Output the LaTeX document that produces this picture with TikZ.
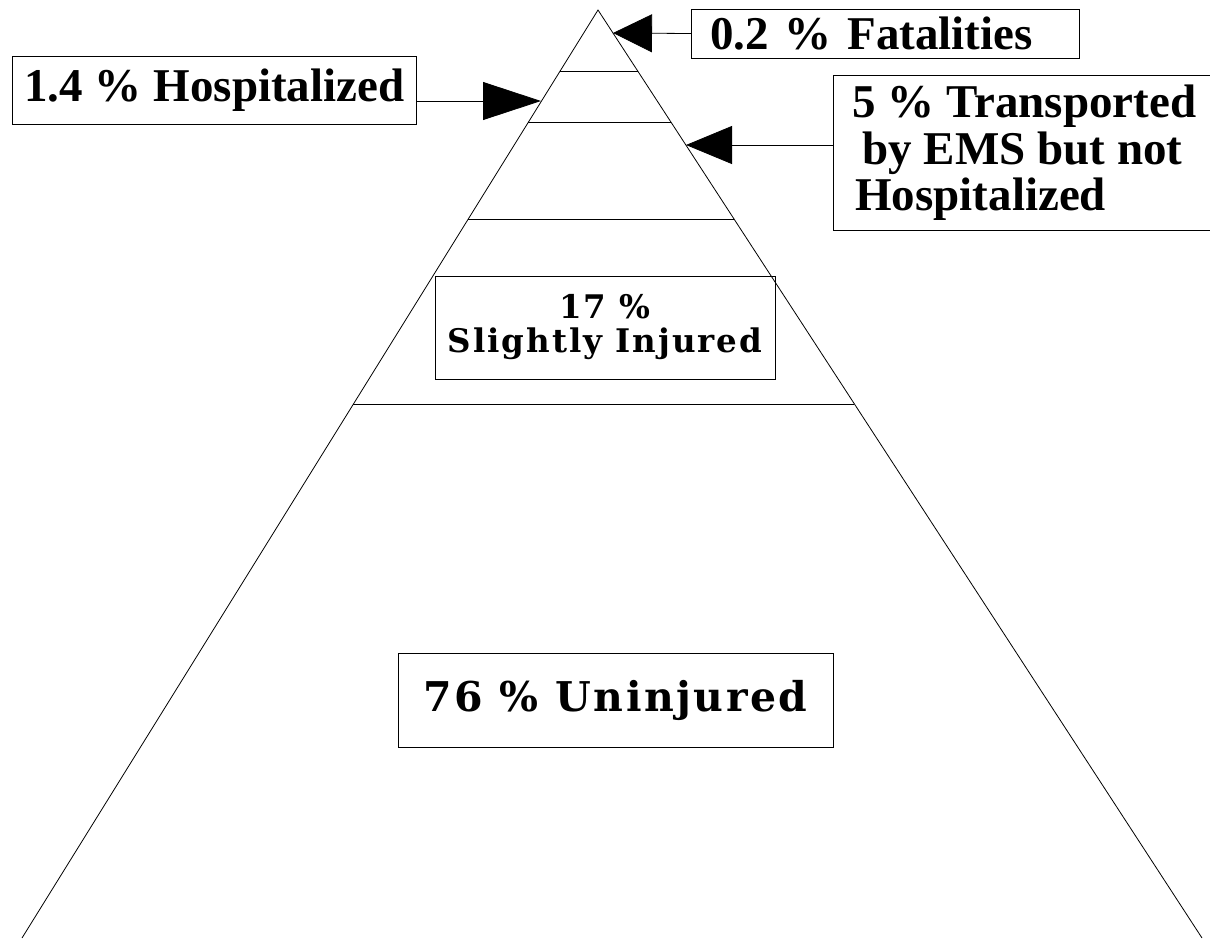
\documentclass[tikz,border=0pt]{standalone}
\usepackage{fontspec}
\setmainfont{Liberation Serif}
\newfontfamily\embfont[LetterSpace=6]{DejaVu Serif}
\usetikzlibrary{arrows.meta,calc}
\begin{document}
\begin{tikzpicture}[x=1pt,y=-1pt, line width=0.8pt,
  lbl/.style={draw, line width=0.8pt, inner ysep=0pt, font=\fontsize{47}{46.5}\selectfont\bfseries, align=left},
  emb/.style={draw, line width=0.8pt, inner sep=0pt, align=center},
  tier/.style={line width=0.8pt}]
\useasboundingbox (0,0) rectangle (1210,938);
% pyramid
\coordinate (apex) at (598,10);
\coordinate (bl) at (22,938);
\coordinate (br) at (1202,938);
\draw (bl) -- (apex) -- (br);
\foreach \t in {0.0657,0.1207,0.2252,0.4246}{
  \draw[tier] ($(apex)!\t!(bl)$) -- ($(apex)!\t!(br)$);
}
% labels
\node[lbl, anchor=west, minimum height=49pt, inner xsep=19pt, text width=350pt] (fat) at (691,33.5) {0.2 \% Fatalities};
\node[lbl, anchor=west, minimum height=68pt, minimum width=404pt, inner xsep=0pt] (hosp) at (12,90) {1.4 \% Hospitalized};
\node[lbl, anchor=north west, minimum height=155pt, inner xsep=19pt] (trans) at (833,75) {5 \% Transported\\\hspace*{10pt}by EMS but not\\\hspace*{3pt}Hospitalized};
\node[emb, minimum width=340pt, minimum height=103pt, font={\embfont\bfseries\fontsize{32.5}{34}\selectfont}] (slight) at (605,327.5) {17 \%\\Slightly Injured};
\node[emb, minimum width=435pt, minimum height=94pt, font={\embfont\bfseries\fontsize{41}{44}\selectfont}] (unin) at (615.5,700) {76 \% Uninjured};
% arrows
\coordinate (tfat) at (613,33);
\coordinate (thosp) at (541,101);
\coordinate (ttrans) at (686,145);
\draw[-{Triangle[length=39pt,width=38pt]}] (fat.west) -- (tfat);
\draw[-{Triangle[length=58pt,width=38pt]}] (hosp.east |- thosp) -- (thosp);
\draw[-{Triangle[length=46pt,width=38pt]}] (trans.west |- ttrans) -- (ttrans);
\end{tikzpicture}
\end{document}
